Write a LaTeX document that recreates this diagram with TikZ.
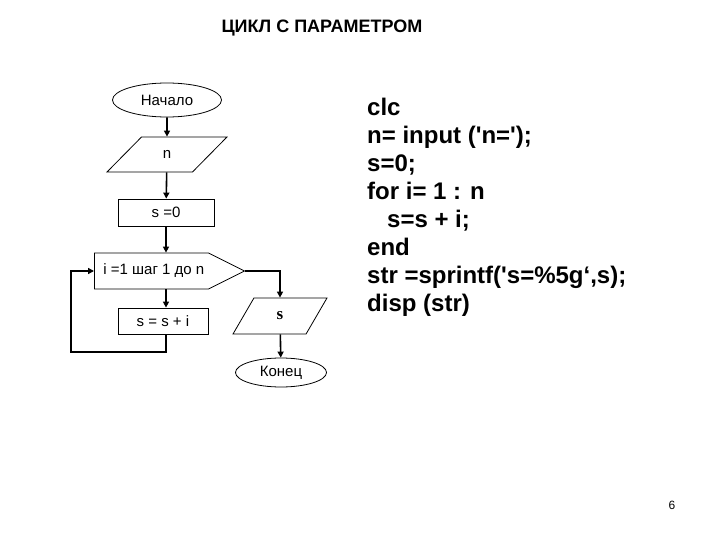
\documentclass[tikz,border=0pt]{standalone}
\usepackage{fontspec}
\setmainfont{Liberation Sans}
\newfontfamily\serifs{Liberation Serif}
\usetikzlibrary{shapes.geometric,shapes.symbols,arrows.meta}
\begin{document}
\begin{tikzpicture}[x=1pt,y=-1pt,
	    every node/.style={font=\fontsize{15}{18}\selectfont,inner sep=0pt},
	    term/.style={draw,ellipse,line width=0.8pt},
	    io/.style={draw,trapezium,trapezium stretches=true,line width=0.8pt},
	    act/.style={draw,rectangle,line width=0.8pt},
	    arr/.style={line width=1.6pt,-{Triangle[length=6pt,width=6pt]}},
	    ln/.style={line width=1.6pt}]
	    \useasboundingbox[fill=white](0,0)rectangle(720,540);
	    \node[font=\fontsize{18}{20}\selectfont\bfseries] (title) at (322,28.5) {ЦИКЛ С ПАРАМЕТРОМ};
	    % flowchart
	    \node[term,minimum width=109pt,minimum height=34pt] (start) at (167,100) {Начало};
	    \node[io,trapezium left angle=55,trapezium right angle=125,minimum width=120pt,minimum height=35pt] (n) at (167,154.5) {n};
	    \node[act,minimum width=96pt,minimum height=27pt] (s0) at (166,212.5) {s =0};
	    \node[draw,signal,signal to=east,signal pointer angle=53,line width=0.8pt,minimum height=36pt,inner xsep=5pt,anchor=west] (loop) at (94,271) {\makebox[104pt][l]{\hspace{4pt}i =1 шаг 1 до n}};
	    \node[act,minimum width=90pt,minimum height=26pt] (body) at (163,321) {s = s + i};
	    \node[io,trapezium left angle=72,trapezium right angle=108,minimum width=94pt,minimum height=36pt,font=\serifs\fontsize{17}{20}\selectfont\bfseries] (sout) at (280,316) {s};
	    \node[term,minimum width=91pt,minimum height=29pt] (fin) at (281,372.5) {Конец};
	    \coordinate (back) at (71,352);
	    \draw[arr](start)--(n);
	    \draw[arr](n)--(s0);
	    \draw[arr](s0.south)--(s0.south|-loop.north);
	    \draw[arr](loop.south-|s0)--(body.north-|s0);
	    \draw[arr](body.south-|s0)|-(back)|-(loop.west);
	    \draw[arr](loop.east)-|(sout.north);
	    \draw[arr](sout)--(fin);
	    % program text
	    \node[font=\fontsize{24}{28}\selectfont\bfseries,align=left,anchor=north west] (code) at (367,98) {clc\\n= input (\textquotesingle n=\textquotesingle);\\s=0;\\for i= 1 : n\\\ \ \ s=s + i;\\end\\str =sprintf(\textquotesingle s=\%5g‘,s);\\disp (str)};
	    \node[font=\fontsize{12}{14}\selectfont] (page) at (672,505) {6};
	\end{tikzpicture}
\end{document}
